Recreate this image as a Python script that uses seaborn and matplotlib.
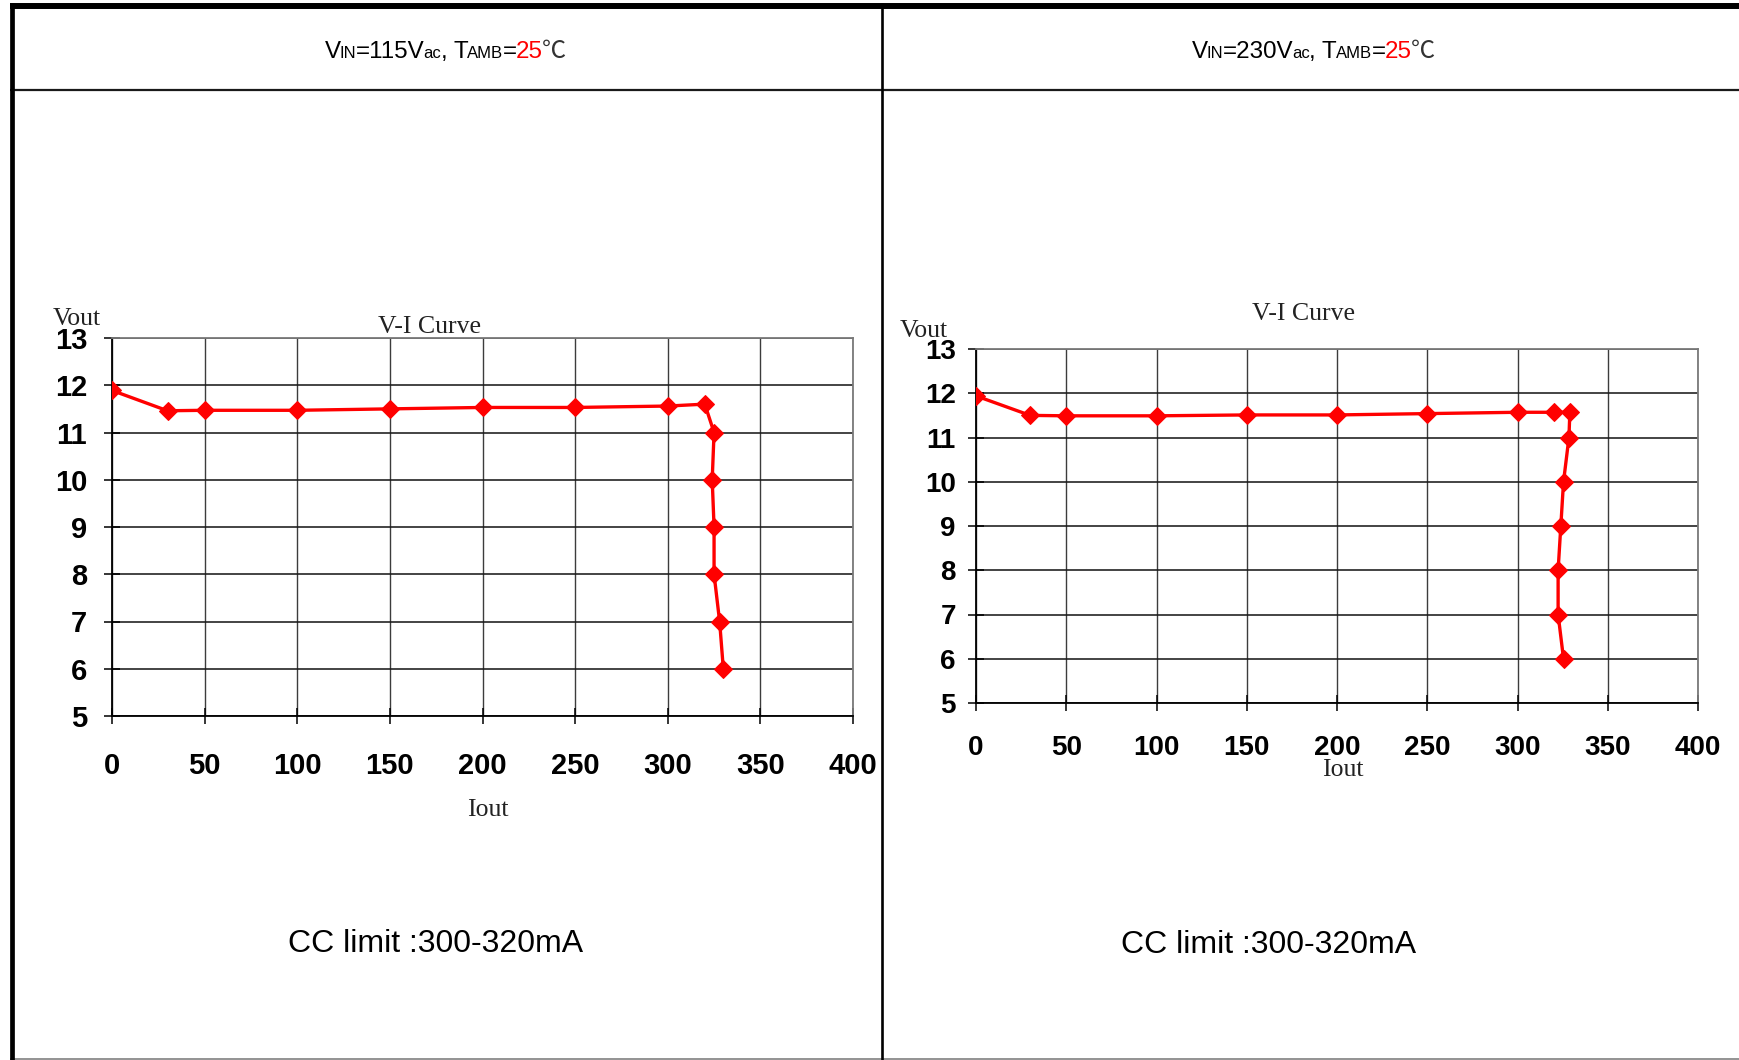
import matplotlib
matplotlib.use("Agg")
import matplotlib.pyplot as plt
import pandas as pd
import seaborn as sns
from matplotlib.lines import Line2D

# V-I curve at 115 Vac input
iout_115 = [0, 30, 50, 100, 150, 200, 250, 300, 320, 325, 324, 325, 325, 328, 330]
vout_115 = [11.89, 11.46, 11.47, 11.47, 11.50, 11.53, 11.53, 11.56, 11.60,
            11.0, 10.0, 9.0, 8.0, 7.0, 6.0]

# V-I curve at 230 Vac input
iout_230 = [0, 30, 50, 100, 150, 200, 250, 300, 320, 329, 328.5, 325.5, 324,
            322.5, 322.5, 325.5]
vout_230 = [11.94, 11.50, 11.49, 11.49, 11.51, 11.51, 11.54, 11.57, 11.57,
            11.57, 11.0, 10.0, 9.0, 8.0, 7.0, 6.0]

x_ticks = [0, 50, 100, 150, 200, 250, 300, 350, 400]
y_ticks = [5, 6, 7, 8, 9, 10, 11, 12, 13]

vin_labels = ["115", "230"]
curve_title = "V-I Curve"
cc_note = "CC limit :300-320mA"

W, H = 1739, 1060
sns.set_theme(style="white")
plt.rcParams["font.family"] = ["Liberation Sans", "DejaVu Sans"]

fig = plt.figure(figsize=(W / 100, H / 100), dpi=100)
fig.patch.set_facecolor("white")


def fx(px):
    return px / W


def fy(py):
    return 1 - py / H


def add_axes_px(x0, x1, ytop, ybot):
    return fig.add_axes([fx(x0), fy(ybot), (x1 - x0) / W, (ybot - ytop) / H])


panels = [
    dict(rect=(112, 853, 338, 716), iout=iout_115, vout=vout_115,
         tick_fs=21, xpad=20, ypad=12,
         vout_pos=(-0.047, 1.050), title_pos=(0.428, 1.008), iout_pos=(0.507, -0.248)),
    dict(rect=(976, 1698, 349, 703), iout=iout_230, vout=vout_230,
         tick_fs=20, xpad=17, ypad=8.5,
         vout_pos=(-0.072, 1.052), title_pos=(0.454, 1.074), iout_pos=(0.508, -0.190)),
]

serif = ["Liberation Serif", "DejaVu Serif"]

for p in panels:
    ax = add_axes_px(*p["rect"])
    df = pd.DataFrame({"Iout": p["iout"], "Vout": p["vout"]})
    sns.lineplot(data=df, x="Iout", y="Vout", ax=ax, sort=False, estimator=None,
                 color="#ff0000", linewidth=2.4, marker="D", markersize=9,
                 markeredgecolor="#ff0000", markerfacecolor="#ff0000", zorder=5)
    ax.set_xlim(0, 400)
    ax.set_ylim(5, 13)
    ax.set_xticks(x_ticks)
    ax.set_yticks(y_ticks)
    ax.set_xticklabels([str(t) for t in x_ticks], fontweight="bold", fontsize=p["tick_fs"])
    ax.set_yticklabels([str(t) for t in y_ticks], fontweight="bold", fontsize=p["tick_fs"])
    ax.tick_params(axis="x", direction="inout", length=12, width=1.1, color="black",
                   pad=p["xpad"], bottom=True, labelcolor="black")
    ax.tick_params(axis="y", direction="inout", length=12, width=1.1, color="black",
                   pad=p["ypad"], left=True, labelcolor="black")
    ax.grid(True, axis="y", color="#1a1a1a", linewidth=1.15)
    ax.grid(True, axis="x", color="#3c3c3c", linewidth=1.0)
    ax.set_axisbelow(True)
    for side in ("left", "bottom"):
        ax.spines[side].set_color("black")
        ax.spines[side].set_linewidth(1.3)
    for side in ("top", "right"):
        ax.spines[side].set_color("#7a7a7a")
        ax.spines[side].set_linewidth(1.3)

    ax.set_xlabel("Iout", fontsize=18.5, family=serif, color="#222222")
    ax.xaxis.set_label_coords(*p["iout_pos"])
    ax.xaxis.label.set_va("center")
    ax.set_ylabel("Vout", fontsize=18.5, family=serif, color="#222222", rotation=0)
    ax.yaxis.set_label_coords(*p["vout_pos"])
    ax.yaxis.label.set_va("center")
    ax.yaxis.label.set_ha("center")
    ax.set_title(curve_title, fontsize=18.5, family=serif, color="#222222",
                 x=p["title_pos"][0], y=p["title_pos"][1], va="center")

# Bottom notes
fig.text(fx(436), fy(944), cc_note, fontsize=23, ha="center", va="center", color="black")
fig.text(fx(1269), fy(945), cc_note, fontsize=23, ha="center", va="center", color="black")

# Header captions with small-cap subscripts
renderer = fig.canvas.get_renderer()


def rich_caption(cx, baseline, vin):
    big, small = 17.4, 12.0
    cjk = ["Noto Sans CJK SC", "DejaVu Sans"]
    pieces = [("V", big, "black", None), ("IN", small, "black", None),
              ("=" + vin + "V", big, "black", None), ("ac", small, "black", None),
              (", T", big, "black", None), ("AMB", small, "black", None),
              ("=", big, "black", None), ("25", big, "#ff0000", None),
              ("\u2103", big, "#333333", cjk)]
    texts = []
    for s, fs, c, fam in pieces:
        kw = dict(fontsize=fs, color=c, va="baseline", ha="left")
        if fam:
            kw["family"] = fam
        t = fig.text(0, fy(baseline), s, **kw)
        texts.append(t)
    widths = [t.get_window_extent(renderer).width - 0.8 for t in texts]
    total = sum(widths)
    x = cx - total / 2
    for t, w in zip(texts, widths):
        t.set_x(fx(x))
        x += w


rich_caption(445, 58, vin_labels[0])
rich_caption(1313, 58, vin_labels[1])


# Table frame
def hline(y, x0, x1, lw, color):
    fig.add_artist(Line2D([fx(x0), fx(x1)], [fy(y), fy(y)], transform=fig.transFigure,
                          color=color, linewidth=lw, solid_capstyle="butt"))


def vline(x, y0, y1, lw, color):
    fig.add_artist(Line2D([fx(x), fx(x)], [fy(y0), fy(y1)], transform=fig.transFigure,
                          color=color, linewidth=lw, solid_capstyle="butt"))


hline(6, 10, W, 4.3, "black")
hline(90, 10, W, 1.6, "#1a1a1a")
hline(1059, 10, W, 1.2, "#808080")
vline(12, 3, H, 3.4, "black")
vline(882, 3, H, 1.9, "black")

fig.savefig("out.png", dpi=100, facecolor="white")
